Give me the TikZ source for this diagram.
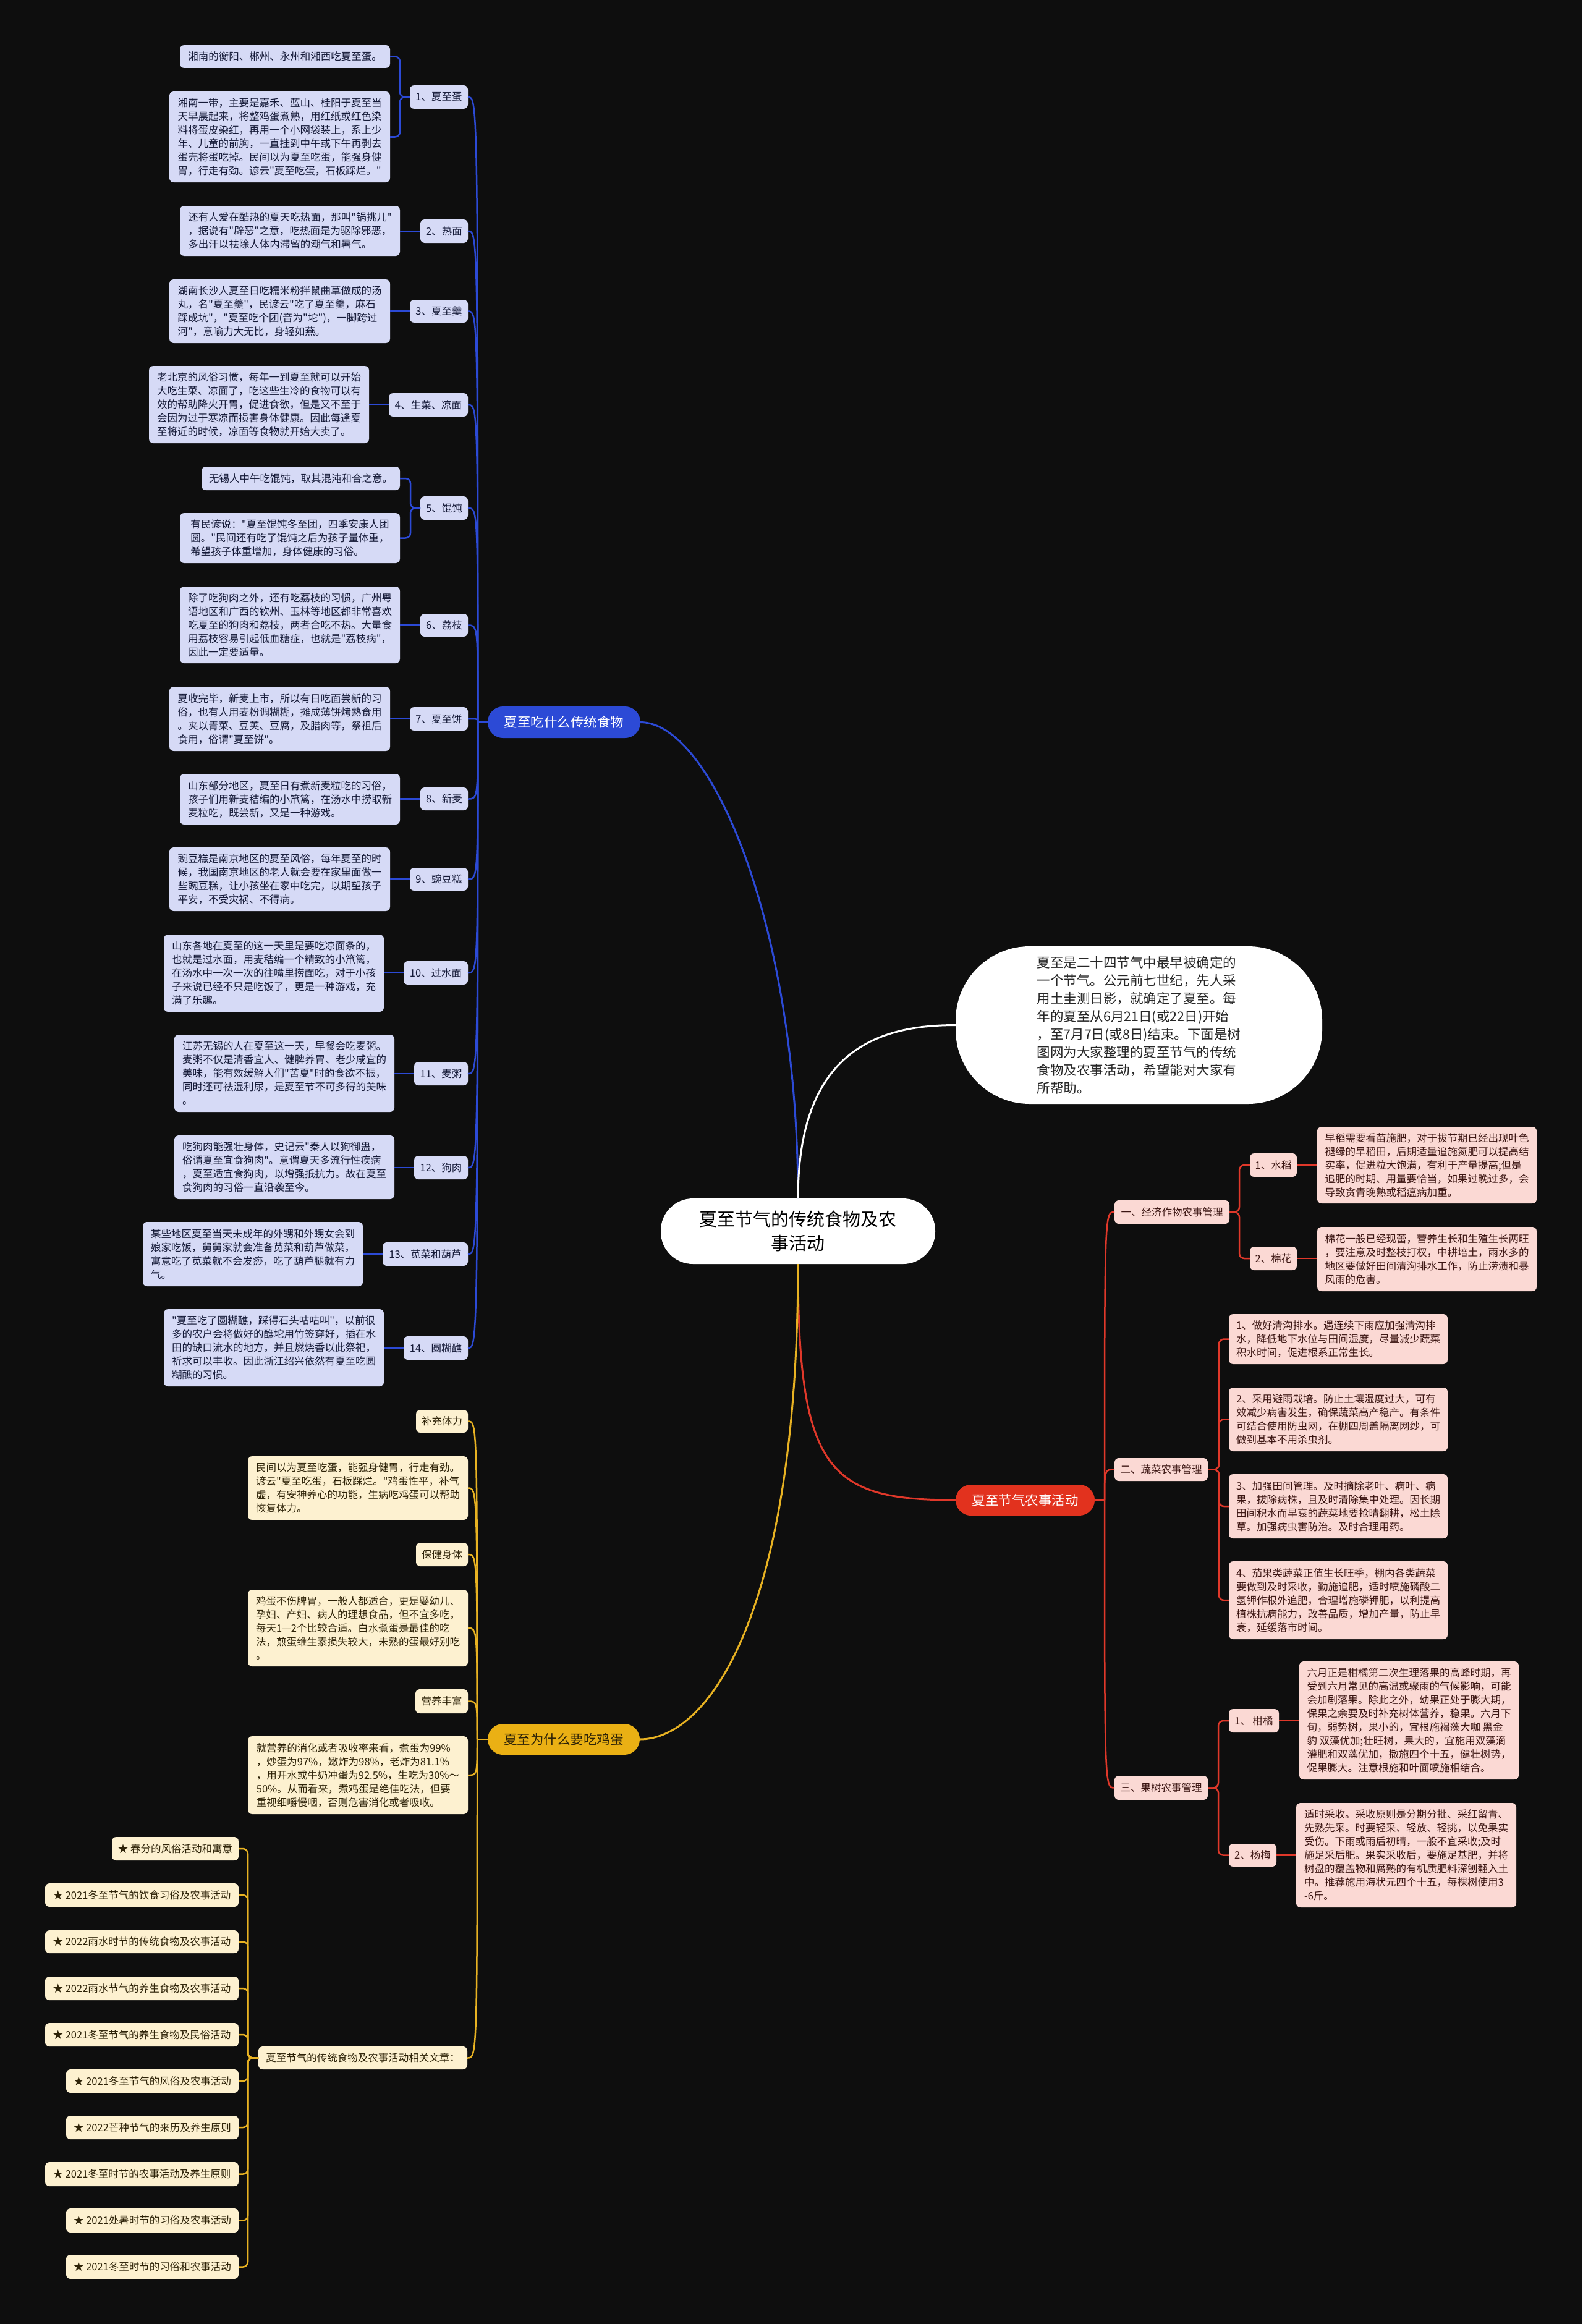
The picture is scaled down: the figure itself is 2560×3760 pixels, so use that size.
\documentclass[tikz,border=0pt]{standalone}
\usepackage{fontspec}
\setmainfont{Noto Sans CJK SC}[Ligatures=TeXOff]
\definecolor{bgc}{HTML}{0E0E0E}
\definecolor{blc}{HTML}{2C4AD6}
\definecolor{blf}{HTML}{D6DAF6}
\definecolor{btx}{HTML}{151A38}
\definecolor{ylc}{HTML}{E8B222}
\definecolor{ylb}{HTML}{EAB014}
\definecolor{ylf}{HTML}{FDF1D0}
\definecolor{ytx}{HTML}{2E2308}
\definecolor{rdc}{HTML}{E0382A}
\definecolor{rdb}{HTML}{E2321E}
\definecolor{rlf}{HTML}{FBD9D4}
\definecolor{rtx}{HTML}{3B1512}
\newcommand\mkbox[7]{\node[#1, minimum width={(#5)-(#3)}, minimum height={(#6)-(#4)}] (#2) at ({((#3)+(#5))/2},{((#4)+(#6))/2}) {#7};}
\tikzset{
 mm/.style={rectangle, rounded corners=7pt, inner xsep=8pt, inner ysep=2pt, outer sep=0pt, font=\fontsize{16.5}{22}\selectfont},
 bleaf/.style={mm, fill=blf, text=btx, align=left},
 blab/.style={mm, fill=blf, text=btx, align=center},
 yleaf/.style={mm, fill=ylf, text=ytx, align=left},
 ylab/.style={mm, fill=ylf, text=ytx, align=center},
 rleaf/.style={mm, fill=rlf, text=rtx, align=left},
 rlab/.style={mm, fill=rlf, text=rtx, align=center},
 branch/.style={rectangle, rounded corners=25pt, outer sep=0pt, inner sep=4pt, font=\fontsize{21.5}{28}\selectfont, align=center},
 bl/.style={draw=blc, line width=2.5pt},
 yl/.style={draw=ylc, line width=2.5pt},
 rd/.style={draw=rdc, line width=2.5pt},
 wl/.style={draw=white, line width=2.5pt},
}
\begin{document}
\begin{tikzpicture}[x=1pt,y=-1pt]
\useasboundingbox (0,0) rectangle (2560,3760);
\fill[bgc] (0,0) rectangle (2560,3760);

% ---- centre and branches
\mkbox{rectangle, rounded corners=52pt, fill=white, text=black, outer sep=0pt, font=\fontsize{29}{39}\selectfont, align=center}{C}{1069}{1939}{1513}{2045}{夏至节气的传统食物及农\\事活动}
\mkbox{rectangle, rounded corners=120pt, fill=white, text=black!85, outer sep=0pt, font=\fontsize{21.5}{29}\selectfont, align=left}{I}{1546}{1531}{2139}{1786}{夏至是二十四节气中最早被确定的\\一个节气。公元前七世纪，先人采\\用土圭测日影，就确定了夏至。每\\年的夏至从6月21日(或22日)开始\\，至7月7日(或8日)结束。下面是树\\图网为大家整理的夏至节气的传统\\食物及农事活动，希望能对大家有\\所帮助。}
\mkbox{branch, fill=blc, text=white}{B}{789}{1143}{1036}{1194}{夏至吃什么传统食物}
\mkbox{branch, fill=ylb, text=ytx}{Y}{789}{2789}{1035}{2839}{夏至为什么要吃鸡蛋}
\mkbox{branch, fill=rdb, text=white}{R}{1546}{2402}{1771}{2452}{夏至节气农事活动}

\draw[bl, line width=3pt] (C.north) .. controls +(0,-440) and +(115,0) .. (B.east);
\draw[wl, line width=3pt] (C.north) .. controls +(0,-240) and +(-125,0) .. (I.west);
\draw[rd, line width=3pt] (C.south) .. controls +(0,335) and +(-206,0) .. (R.west);
\draw[yl, line width=3pt] (C.south) .. controls +(0,555) and +(115,0) .. (Y.east);

% ---- blue branch
\mkbox{blab}{L1}{663}{138}{757}{176}{1、夏至蛋}
\mkbox{blab}{L2}{680}{355}{757}{393}{2、热面}
\mkbox{blab}{L3}{663}{485}{757}{522}{3、夏至羹}
\mkbox{blab}{L4}{629}{636}{757}{674}{4、生菜、凉面}
\mkbox{blab}{L5}{680}{803}{757}{841}{5、馄饨}
\mkbox{blab}{L6}{680}{993}{757}{1030}{6、荔枝}
\mkbox{blab}{L7}{663}{1144}{757}{1182}{7、夏至饼}
\mkbox{blab}{L8}{680}{1274}{757}{1311}{8、新麦}
\mkbox{blab}{L9}{663}{1404}{757}{1441}{9、豌豆糕}
\mkbox{blab}{L10}{653}{1555}{757}{1593}{10、过水面}
\mkbox{blab}{L11}{670}{1718}{757}{1756}{11、麦粥}
\mkbox{blab}{L12}{670}{1870}{757}{1908}{12、狗肉}
\mkbox{blab}{L13}{619}{2010}{757}{2048}{13、苋菜和葫芦}
\mkbox{blab}{L14}{653}{2162}{757}{2200}{14、圆糊醮}

\mkbox{bleaf}{B1a}{291}{73}{631}{110}{湘南的衡阳、郴州、永州和湘西吃夏至蛋。}
\mkbox{bleaf}{B1b}{274}{148}{631}{295}{湘南一带，主要是嘉禾、蓝山、桂阳于夏至当\\天早晨起来，将整鸡蛋煮熟，用红纸或红色染\\料将蛋皮染红，再用一个小网袋装上，系上少\\年、儿童的前胸，一直挂到中午或下午再剥去\\蛋壳将蛋吃掉。民间以为夏至吃蛋，能强身健\\胃，行走有劲。谚云"夏至吃蛋，石板踩烂。"}
\mkbox{bleaf}{B2}{291}{333}{647}{414}{还有人爱在酷热的夏天吃热面，那叫"锅挑儿"\\，据说有"辟恶"之意，吃热面是为驱除邪恶，\\多出汗以祛除人体内滞留的潮气和暑气。}
\mkbox{bleaf}{B3}{274}{452}{631}{555}{湖南长沙人夏至日吃糯米粉拌鼠曲草做成的汤\\丸，名"夏至羹"，民谚云"吃了夏至羹，麻石\\踩成坑"，"夏至吃个团(音为"坨")，一脚跨过\\河"，意喻力大无比，身轻如燕。}
\mkbox{bleaf}{B4}{241}{592}{597}{717}{老北京的风俗习惯，每年一到夏至就可以开始\\大吃生菜、凉面了，吃这些生冷的食物可以有\\效的帮助降火开胃，促进食欲，但是又不至于\\会因为过于寒凉而损害身体健康。因此每逢夏\\至将近的时候，凉面等食物就开始大卖了。}
\mkbox{bleaf}{B5a}{326}{755}{647}{793}{无锡人中午吃馄饨，取其混沌和合之意。}
\mkbox{bleaf}{B5b}{291}{830}{647}{911}{有民谚说："夏至馄饨冬至团，四季安康人团\\圆。"民间还有吃了馄饨之后为孩子量体重，\\希望孩子体重增加，身体健康的习俗。}
\mkbox{bleaf}{B6}{291}{949}{647}{1073}{除了吃狗肉之外，还有吃荔枝的习惯，广州粤\\语地区和广西的钦州、玉林等地区都非常喜欢\\吃夏至的狗肉和荔枝，两者合吃不热。大量食\\用荔枝容易引起低血糖症，也就是"荔枝病"，\\因此一定要适量。}
\mkbox{bleaf}{B7}{274}{1111}{631}{1215}{夏收完毕，新麦上市，所以有日吃面尝新的习\\俗，也有人用麦粉调糊糊，摊成薄饼烤熟食用\\。夹以青菜、豆荚、豆腐，及腊肉等，祭祖后\\食用，俗谓"夏至饼"。}
\mkbox{bleaf}{B8}{291}{1252}{647}{1334}{山东部分地区，夏至日有煮新麦粒吃的习俗，\\孩子们用新麦秸编的小笊篱，在汤水中捞取新\\麦粒吃，既尝新，又是一种游戏。}
\mkbox{bleaf}{B9}{274}{1371}{631}{1474}{豌豆糕是南京地区的夏至风俗，每年夏至的时\\候，我国南京地区的老人就会要在家里面做一\\些豌豆糕，让小孩坐在家中吃完，以期望孩子\\平安，不受灾祸、不得病。}
\mkbox{bleaf}{B10}{265}{1512}{621}{1637}{山东各地在夏至的这一天里是要吃凉面条的，\\也就是过水面，用麦秸编一个精致的小笊篱，\\在汤水中一次一次的往嘴里捞面吃，对于小孩\\子来说已经不只是吃饭了，更是一种游戏，充\\满了乐趣。}
\mkbox{bleaf}{B11}{282}{1674}{638}{1799}{江苏无锡的人在夏至这一天，早餐会吃麦粥。\\麦粥不仅是清香宜人、健脾养胃、老少咸宜的\\美味，能有效缓解人们"苦夏"时的食欲不振，\\同时还可祛湿利尿，是夏至节不可多得的美味\\。}
\mkbox{bleaf}{B12}{282}{1837}{638}{1940}{吃狗肉能强壮身体，史记云"秦人以狗御蛊，\\俗谓夏至宜食狗肉"。意谓夏天多流行性疾病\\，夏至适宜食狗肉，以增强抵抗力。故在夏至\\食狗肉的习俗一直沿袭至今。}
\mkbox{bleaf}{B13}{231}{1977}{587}{2081}{某些地区夏至当天未成年的外甥和外甥女会到\\娘家吃饭，舅舅家就会准备苋菜和葫芦做菜，\\寓意吃了苋菜就不会发痧，吃了葫芦腿就有力\\气。}
\mkbox{bleaf}{B14}{265}{2118}{621}{2243}{"夏至吃了圆糊醮，踩得石头咕咕叫"，以前很\\多的农户会将做好的醮坨用竹签穿好，插在水\\田的缺口流水的地方，并且燃烧香以此祭祀，\\祈求可以丰收。因此浙江绍兴依然有夏至吃圆\\糊醮的习惯。}

\coordinate (JB) at (773,1168.5);
\draw[bl] (B.west) -- (JB);
\foreach \nn in {1,...,14} {\draw[bl] (L\nn.east) .. controls (JB |- L\nn.east) and (JB |- L\nn.east) .. (JB);}
\draw[bl, rounded corners=8pt] (B1a.east) -- ++(16,0) |- (L1.west);
\draw[bl, rounded corners=8pt] (B1b.east) -- ++(16,0) |- (L1.west);
\draw[bl, rounded corners=8pt] (B5a.east) -- ++(17,0) |- (L5.west);
\draw[bl, rounded corners=8pt] (B5b.east) -- ++(17,0) |- (L5.west);
\foreach \nn in {2,3,4,6,7,8,9,10,11,12,13,14} {\draw[bl] (L\nn.west) -- (L\nn.west -| B\nn.east);}

% ---- yellow branch
\mkbox{ylab}{Y1}{673}{2281}{757}{2318}{补充体力}
\mkbox{yleaf}{YL1}{401}{2356}{757}{2459}{民间以为夏至吃蛋，能强身健胃，行走有劲。\\谚云"夏至吃蛋，石板踩烂。"鸡蛋性平，补气\\虚，有安神养心的功能，生病吃鸡蛋可以帮助\\恢复体力。}
\mkbox{ylab}{Y2}{673}{2496}{757}{2534}{保健身体}
\mkbox{yleaf}{YL2}{401}{2572}{757}{2696}{鸡蛋不伤脾胃，一般人都适合，更是婴幼儿、\\孕妇、产妇、病人的理想食品，但不宜多吃，\\每天1—2个比较合适。白水煮蛋是最佳的吃\\法，煎蛋维生素损失较大，未熟的蛋最好别吃\\。}
\mkbox{ylab}{Y3}{672}{2733}{757}{2772}{营养丰富}
\mkbox{yleaf}{YL3}{401}{2809}{757}{2935}{就营养的消化或者吸收率来看，煮蛋为99\%\\，炒蛋为97\%，嫩炸为98\%，老炸为81.1\%\\，用开水或牛奶冲蛋为92.5\%，生吃为30\%～\\50\%。从而看来，煮鸡蛋是绝佳吃法，但要\\重视细嚼慢咽，否则危害消化或者吸收。}
\mkbox{ylab}{YR}{418}{3311}{756}{3348}{夏至节气的传统食物及农事活动相关文章：}
\mkbox{ylab}{A1}{181}{2972}{386}{3010}{★ 春分的风俗活动和寓意}
\mkbox{ylab}{A2}{73}{3047}{386}{3085}{★ 2021冬至节气的饮食习俗及农事活动}
\mkbox{ylab}{A3}{73}{3123}{386}{3160}{★ 2022雨水时节的传统食物及农事活动}
\mkbox{ylab}{A4}{73}{3198}{386}{3236}{★ 2022雨水节气的养生食物及农事活动}
\mkbox{ylab}{A5}{73}{3273}{386}{3311}{★ 2021冬至节气的养生食物及民俗活动}
\mkbox{ylab}{A6}{107}{3348}{386}{3386}{★ 2021冬至节气的风俗及农事活动}
\mkbox{ylab}{A7}{107}{3423}{386}{3461}{★ 2022芒种节气的来历及养生原则}
\mkbox{ylab}{A8}{73}{3498}{386}{3537}{★ 2021冬至时节的农事活动及养生原则}
\mkbox{ylab}{A9}{107}{3573}{386}{3612}{★ 2021处暑时节的习俗及农事活动}
\mkbox{ylab}{A10}{107}{3648}{386}{3687}{★ 2021冬至时节的习俗和农事活动}

\coordinate (JY) at (772,2814);
\draw[yl] (Y.west) -- (JY);
\foreach \nn in {Y1,YL1,Y2,YL2,Y3,YL3,YR} {\draw[yl] (\nn.east) .. controls (JY |- \nn.east) and (JY |- \nn.east) .. (JY);}
\foreach \nn in {1,...,10} {\draw[yl, rounded corners=8pt] (A\nn.east) -- ++(15,0) |- (YR.west);}

% ---- red branch
\mkbox{rlab}{R1}{1803}{1942}{1989}{1980}{一、经济作物农事管理}
\mkbox{rlab}{R1a}{2022}{1866}{2098}{1904}{1、水稻}
\mkbox{rleaf}{R1aL}{2131}{1823}{2486}{1947}{早稻需要看苗施肥，对于拔节期已经出现叶色\\褪绿的早稻田，后期适量追施氮肥可以提高结\\实率，促进粒大饱满，有利于产量提高;但是\\追肥的时期、用量要恰当，如果过晚过多，会\\导致贪青晚熟或稻瘟病加重。}
\mkbox{rlab}{R1b}{2022}{2017}{2098}{2055}{2、棉花}
\mkbox{rleaf}{R1bL}{2131}{1985}{2486}{2089}{棉花一般已经现蕾，营养生长和生殖生长两旺\\，要注意及时整枝打杈，中耕培土，雨水多的\\地区要做好田间清沟排水工作，防止涝渍和暴\\风雨的危害。}
\mkbox{rlab}{R2}{1803}{2359}{1954}{2396}{二、蔬菜农事管理}
\mkbox{rleaf}{V1}{1988}{2126}{2342}{2207}{1、做好清沟排水。遇连续下雨应加强清沟排\\水，降低地下水位与田间湿度，尽量减少蔬菜\\积水时间，促进根系正常生长。}
\mkbox{rleaf}{V2}{1988}{2245}{2342}{2348}{2、采用避雨栽培。防止土壤湿度过大，可有\\效减少病害发生，确保蔬菜高产稳产。有条件\\可结合使用防虫网，在棚四周盖隔离网纱，可\\做到基本不用杀虫剂。}
\mkbox{rleaf}{V3}{1988}{2385}{2342}{2489}{3、加强田间管理。及时摘除老叶、病叶、病\\果，拔除病株，且及时清除集中处理。因长期\\田间积水而早衰的蔬菜地要抢晴翻耕，松土除\\草。加强病虫害防治。及时合理用药。}
\mkbox{rleaf}{V4}{1988}{2526}{2342}{2652}{4、茄果类蔬菜正值生长旺季，棚内各类蔬菜\\要做到及时采收，勤施追肥，适时喷施磷酸二\\氢钾作根外追肥，合理增施磷钾肥，以利提高\\植株抗病能力，改善品质，增加产量，防止早\\衰，延缓落市时间。}
\mkbox{rlab}{R3}{1803}{2873}{1954}{2912}{三、果树农事管理}
\mkbox{rlab}{G1}{1988}{2765}{2069}{2803}{1、 柑橘}
\mkbox{rleaf}{G1L}{2102}{2688}{2457}{2879}{六月正是柑橘第二次生理落果的高峰时期，再\\受到六月常见的高温或骤雨的气候影响，可能\\会加剧落果。除此之外，幼果正处于膨大期，\\保果之余要及时补充树体营养，稳果。六月下\\旬，弱势树，果小的，宜根施褐藻大咖 黑金\\豹 双藻优加;壮旺树，果大的，宜施用双藻滴\\灌肥和双藻优加，撒施四个十五，健壮树势，\\促果膨大。注意根施和叶面喷施相结合。}
\mkbox{rlab}{G2}{1988}{2983}{2065}{3020}{2、杨梅}
\mkbox{rleaf}{G2L}{2097}{2917}{2453}{3086}{适时采收。采收原则是分期分批、采红留青、\\先熟先采。时要轻采、轻放、轻挑，以免果实\\受伤。下雨或雨后初晴，一般不宜采收;及时\\施足采后肥。果实采收后，要施足基肥，并将\\树盘的覆盖物和腐熟的有机质肥料深刨翻入土\\中。推荐施用海状元四个十五，每棵树使用3\\-6斤。}

\coordinate (JR) at (1787,2427);
\draw[rd] (R.east) -- (JR);
\foreach \nn in {R1,R2,R3} {\draw[rd] (JR) .. controls (JR |- \nn.west) and (JR |- \nn.west) .. (\nn.west);}
\draw[rd, rounded corners=8pt] (R1.east) -- ++(16,0) |- (R1a.west);
\draw[rd, rounded corners=8pt] (R1.east) -- ++(16,0) |- (R1b.west);
\draw[rd] (R1a.east) -- (R1a.east -| R1aL.west);
\draw[rd] (R1b.east) -- (R1b.east -| R1bL.west);
\foreach \nn in {V1,V2,V3,V4} {\draw[rd, rounded corners=8pt] (R2.east) -- ++(18,0) |- (\nn.west);}
\draw[rd, rounded corners=8pt] (R3.east) -- ++(17,0) |- (G1.west);
\draw[rd, rounded corners=8pt] (R3.east) -- ++(17,0) |- (G2.west);
\draw[rd] (G1.east) -- (G1.east -| G1L.west);
\draw[rd] (G2.east) -- (G2.east -| G2L.west);
\end{tikzpicture}
\end{document}
